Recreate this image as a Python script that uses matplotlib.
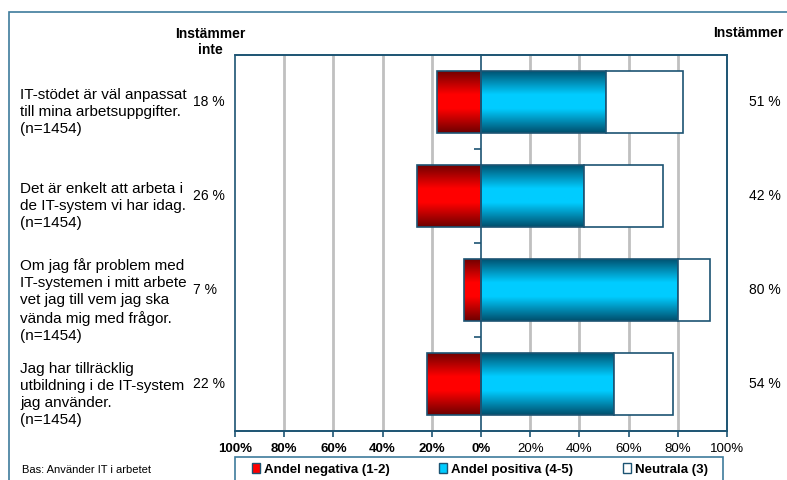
import numpy as np
import matplotlib
matplotlib.use("Agg")
import matplotlib.pyplot as plt
from matplotlib.colors import LinearSegmentedColormap
from matplotlib.patches import Rectangle, Patch

plt.rcParams["font.family"] = ["Liberation Sans", "DejaVu Sans"]

# ======================================
# Data
# ======================================

categories = [
    "IT-stödet är väl anpassat\ntill mina arbetsuppgifter.\n(n=1454)",
    "Det är enkelt att arbeta i\nde IT-system vi har idag.\n(n=1454)",
    "Om jag får problem med\nIT-systemen i mitt arbete\nvet jag till vem jag ska\nvända mig med frågor.\n(n=1454)",
    "Jag har tillräcklig\nutbildning i de IT-system\njag använder.\n(n=1454)",
]
negative = [18, 26, 7, 22]
positive = [51, 42, 80, 54]
neutral = [31, 32, 13, 24]

x_ticks = [-100, -80, -60, -40, -20, 0, 20, 40, 60, 80, 100]
x_labels = ["100%", "80%", "60%", "40%", "20%", "0%",
            "20%", "40%", "60%", "80%", "100%"]

legend_labels = ["Andel negativa (1-2)", "Andel positiva (4-5)", "Neutrala (3)"]

# ======================================
# Styles
# ======================================

EDGE = "#1C5473"
FRAME = "#3E7C9C"
GRID = "#C0C0C0"

red_cmap = LinearSegmentedColormap.from_list("r", ["#6E0000", "#FF0000"])
blue_cmap = LinearSegmentedColormap.from_list("b", ["#00506E", "#00CCFF"])
grad = 1 - np.abs(np.linspace(-1, 1, 64))
grad = np.clip(grad * 1.3, 0, 1).reshape(-1, 1)

W, H = 787, 480
fig = plt.figure(figsize=(W / 100, H / 100), dpi=100)
ax = fig.add_axes([235 / W, 1 - 431 / H, (727 - 235) / W, (431 - 55) / H])

y = np.arange(len(categories))
bar_h = 0.66


def gradient_bars(lefts, widths, cmap):
    bars = ax.barh(y, widths, left=lefts, height=bar_h,
                   facecolor="none", edgecolor=EDGE, linewidth=1.2, zorder=4)
    for b in bars:
        x0, y0 = b.get_x(), b.get_y()
        im = ax.imshow(grad, cmap=cmap, vmin=0, vmax=1, aspect="auto",
                       extent=(x0, x0 + b.get_width(), y0 + b.get_height(), y0),
                       zorder=3, interpolation="bilinear")
        im.set_clip_path(b)
    return bars


gradient_bars([-v for v in negative], negative, red_cmap)
gradient_bars([0] * len(positive), positive, blue_cmap)
ax.barh(y, neutral, left=positive, height=bar_h,
        facecolor="white", edgecolor=EDGE, linewidth=1.2, zorder=4)

ax.set_xlim(-100, 100)
ax.set_ylim(len(categories) - 0.5, -0.5)

# grid
for gx in x_ticks[1:-1]:
    if gx != 0:
        ax.axvline(gx, color=GRID, linewidth=2, zorder=1)

# axes / spines
ax.spines["left"].set_position(("data", 0))
for s in ax.spines.values():
    s.set_color(EDGE)
    s.set_linewidth(1.2)
ax.add_patch(Rectangle((0, 0), 1, 1, transform=ax.transAxes, fill=False,
                       edgecolor=EDGE, linewidth=1.2, zorder=5, clip_on=False))
ax.spines["left"].set_zorder(6)

ax.set_yticks([i + 0.5 for i in range(len(categories) - 1)])
ax.set_yticklabels([])
ax.tick_params(axis="y", direction="out", length=5, color=EDGE, width=1.2)

ax.set_xticks(x_ticks)
ax.set_xticklabels(x_labels, fontsize=9.5)
ax.tick_params(axis="x", direction="out", length=4, color=EDGE, width=1.2, pad=5)
for i, lab in enumerate(ax.get_xticklabels()):
    if x_ticks[i] <= 0:
        lab.set_fontweight("bold")

# category labels and percentages
for i, cat in enumerate(categories):
    ax.annotate(cat, xy=(20 / W, i), xycoords=("figure fraction", "data"),
                xytext=(0, -7.5), textcoords="offset points",
                ha="left", va="center", fontsize=11, linespacing=1.28)
    ax.annotate(f"{negative[i]} %", xy=(193 / W, i),
                xycoords=("figure fraction", "data"),
                ha="left", va="center", fontsize=10)
    ax.annotate(f"{positive[i]} %", xy=(749 / W, i),
                xycoords=("figure fraction", "data"),
                ha="left", va="center", fontsize=10)

fig.text(210 / W, 1 - 42 / H, "Instämmer\ninte", ha="center", va="center",
         fontsize=10, fontweight="bold", linespacing=1.25)
fig.text(713 / W, 1 - 33 / H, "Instämmer", ha="left", va="center",
         fontsize=10, fontweight="bold")
fig.text(22 / W, 1 - 470 / H, "Bas: Använder IT i arbetet", ha="left",
         va="center", fontsize=8)

# outer frame
fig.add_artist(Rectangle((9 / W, -0.5), 2, 1.5 - 12 / H,
                         transform=fig.transFigure, fill=False,
                         edgecolor=FRAME, linewidth=1.2))

# legend
fig.add_artist(Rectangle((235 / W, -0.5), (723 - 235) / W, 0.5 + 1 - 457 / H,
                         transform=fig.transFigure, fill=False,
                         edgecolor=FRAME, linewidth=1.2))
handles = [
    Patch(facecolor="#FF0000", edgecolor=EDGE),
    Patch(facecolor="#00CCFF", edgecolor=EDGE),
    Patch(facecolor="white", edgecolor=EDGE),
]
leg = fig.legend(handles, legend_labels, loc="upper left", ncol=3,
                 bbox_to_anchor=(248 / W, 1 - 459 / H, (712 - 248) / W, 0),
                 mode="expand", prop={"weight": "bold", "size": 9.5},
                 handlelength=0.6, handleheight=0.8, handletextpad=0.3,
                 borderpad=0.3, frameon=False, borderaxespad=0)

fig.savefig("out.png", dpi=100)
